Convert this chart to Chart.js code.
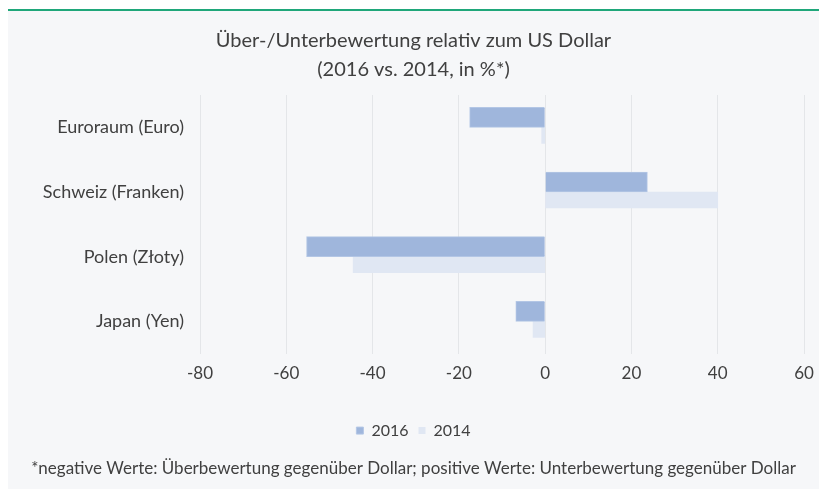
<!DOCTYPE html>
<html>
<head>
<meta charset="utf-8">
<script src="https://cdn.jsdelivr.net/npm/chart.js@4.4.0/dist/chart.umd.min.js"></script>
<style>
    html, body { margin: 0; padding: 0; background: #ffffff; overflow: hidden; }
    #panel {
        position: absolute;
        left: 8px;
        top: 9px;
        width: 811px;
        height: 478px;
        background: #f6f7f9;
        border-top: 2px solid #1fa77a;
    }
    #chart { position: absolute; left: 0; top: 0; }
</style>
</head>
<body>
<div id="panel">
    <canvas id="chart" width="811" height="478"></canvas>
</div>
<script>
const categories = [ 'Euroraum (Euro)', 'Schweiz (Franken)', 'Polen (Złoty)', 'Japan (Yen)' ]
const values2016 = [ -17.5, 23.7, -55.3, -6.8 ]
const values2014 = [ -0.8, 40.0, -44.5, -2.8 ]
const xTicks = [ -80, -60, -40, -20, 0, 20, 40, 60 ]

const textColor = '#404040'
const fontFamily = 'Lato, "Open Sans", sans-serif'

const ctx = document.getElementById( 'chart' ).getContext( '2d' )
const chart = new Chart( ctx, {
    type: 'bar',
    data: {
        labels: categories,
        datasets: [ {
            label: '2016',
            data: values2016,
            backgroundColor: '#9fb6dc',
            borderColor: '#b3c6e5',
            borderWidth: 1,
            barThickness: 20
        }, {
            label: '2014',
            data: values2014,
            backgroundColor: '#e0e7f3',
            borderWidth: 0,
            barThickness: 16
        } ]
    },
    options: {
        indexAxis: 'y',
        responsive: false,
        animation: false,
        layout: { padding: 0 },
        scales: {
            x: {
                min: -80,
                max: 60,
                afterBuildTicks: scale => {
                    scale.ticks = xTicks.map( v => ( { value: v } ) )
                },
                afterFit: scale => {
                    scale.paddingRight = 15
                    scale.height += 19.5
                },
                grid: { color: '#e4e6e9', drawTicks: false },
                border: { display: false },
                ticks: {
                    color: textColor,
                    padding: 9.5,
                    font: { family: fontFamily, size: 17 }
                }
            },
            y: {
                afterFit: scale => { scale.width = 192 },
                grid: { display: false, drawTicks: false },
                border: { display: false },
                ticks: {
                    color: textColor,
                    padding: 16,
                    font: { family: fontFamily, size: 18 }
                }
            }
        },
        plugins: {
            title: {
                display: true,
                text: [ 'Über-/Unterbewertung relativ zum US Dollar', '(2016 vs. 2014, in %*)' ],
                color: textColor,
                font: { family: fontFamily, size: 20, weight: 'normal', lineHeight: 1.45 },
                padding: { top: 15, bottom: 11 }
            },
            legend: {
                position: 'bottom',
                labels: {
                    color: textColor,
                    boxWidth: 7,
                    boxHeight: 7,
                    padding: 10,
                    font: { family: fontFamily, size: 16 }
                }
            },
            subtitle: {
                display: true,
                position: 'bottom',
                text: '*negative Werte: Überbewertung gegenüber Dollar; positive Werte: Unterbewertung gegenüber Dollar',
                color: textColor,
                font: { family: fontFamily, size: 17 },
                padding: { top: 10, bottom: 10 }
            },
            tooltip: { enabled: false }
        }
    }
} )
</script>
</body>
</html>
